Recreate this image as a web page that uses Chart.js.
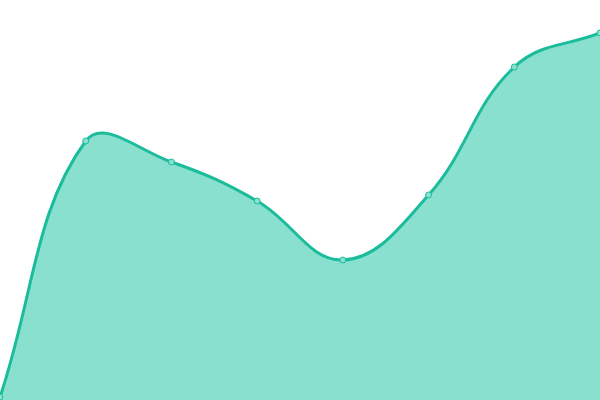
<!DOCTYPE html>
<html>
<head>
<meta charset="utf-8">
<script src="https://cdn.jsdelivr.net/npm/chart.js@4"></script>
<style>
  html, body { margin:0; padding:0; background:#fff; }
  #wrap { width:600px; height:400px; }
</style>
</head>
<body>
<div id="wrap"><canvas id="chart" width="600" height="400"></canvas></div>
<script>
// Data
const labels = ["1","2","3","4","5","6","7","8"];
const values = [3, 259, 238, 199, 140, 205, 333, 367];
const yMin = 0, yMax = 400;

const ctx = document.getElementById("chart").getContext("2d");
new Chart(ctx, {
  type: 'line',
  data: {
    labels: labels,
    datasets: [{
      data: values,
      borderColor: '#1abc9c',
      borderWidth: 3,
      backgroundColor: '#8ae0cf',
      fill: 'start',
      tension: 0.4,
      pointRadius: 3,
      pointBorderWidth: 1,
      pointBackgroundColor: '#8ae0cf',
      pointBorderColor: '#1abc9c'
    }]
  },
  options: {
    responsive: false,
    animation: false,
    layout: { padding: 0, autoPadding: false },
    scales: {
      x: { display: false },
      y: { display: false, min: yMin, max: yMax }
    },
    plugins: { legend: { display: false }, tooltip: { enabled: false } }
  }
});
</script>
</body>
</html>
